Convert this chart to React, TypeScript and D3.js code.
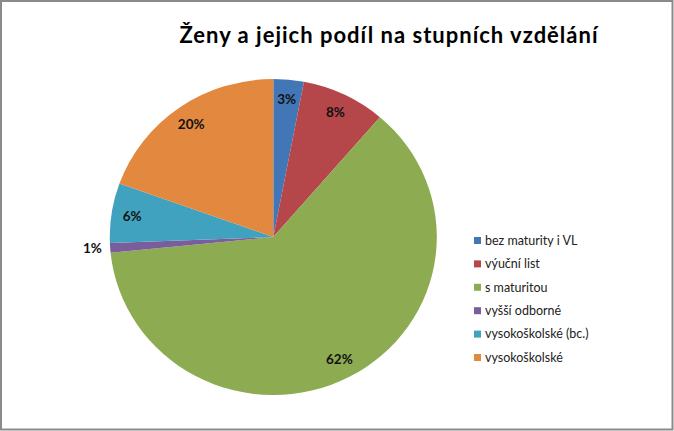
import React, { useEffect } from "react";
import * as d3 from "d3";

const categories = [
  "bez maturity i VL",
  "výuční list",
  "s maturitou",
  "vyšší odborné",
  "vysokoškolské (bc.)",
  "vysokoškolské",
];
const values = [3.0, 8.3, 62.1, 1.0, 6.1, 19.5];
const labels = ["3%", "8%", "62%", "1%", "6%", "20%"];
const colors = ["#4276B6", "#B5464A", "#8DAB50", "#7A5D9C", "#40A2BE", "#E2883F"];
const title = "Ženy a jejich podíl na stupních vzdělání";

const W = 674;
const H = 431;
const cx = 273.3;
const cy = 237;
const r = 158;
const sx = 1.035;
const font = "Lato, 'Open Sans', sans-serif";

export default function App() {
  useEffect(() => {
    document.body.style.margin = "0";
  }, []);

  const data = categories.map((c, i) => ({ c, v: values[i], l: labels[i], col: colors[i] }));
  const pie = d3.pie<any>().value((d) => d.v).sort(null);
  const arcs = pie(data);
  const arc = d3.arc<any>().innerRadius(0).outerRadius(r);
  const labelR = 138;

  return (
    <svg width={W} height={H} style={{ display: "block" }}>
      <rect x={0} y={0} width={W} height={H} fill="#fff" />
      <rect x={1} y={1} width={W - 2.5} height={H - 2.5} fill="none" stroke="#8a8a8a" strokeWidth={2} />
      <text
        x={389}
        y={43}
        textAnchor="middle"
        fontFamily={font}
        fontWeight="bold"
        fontSize={22}
        letterSpacing={1}
        fill="#000"
      >
        {title}
      </text>
      <g transform={`translate(${cx},${cy}) scale(${sx},1)`}>
        {arcs.map((a, i) => (
          <path key={i} d={arc(a) as string} fill={a.data.col} />
        ))}
      </g>
      {arcs.map((a, i) => {
        const mid = (a.startAngle + a.endAngle) / 2;
        const outside = a.data.v < 2;
        let x = cx + Math.sin(mid) * labelR * sx;
        let y = cy - Math.cos(mid) * labelR;
        let anchor: any = "middle";
        if (outside) {
          x = cx + Math.sin(mid) * (r + 8) * sx;
          y = cy - Math.cos(mid) * (r + 8);
          anchor = "end";
        }
        return (
          <text
            key={i}
            x={x}
            y={y}
            dy="0.35em"
            textAnchor={anchor}
            fontFamily={font}
            fontWeight="bold"
            fontSize={13.5}
            fill="#111"
          >
            {a.data.l}
          </text>
        );
      })}
      {data.map((d, i) => {
        const y = 240.5 + i * 23.4;
        return (
          <g key={i}>
            <rect x={474} y={y - 3.5} width={7} height={7} fill={d.col} />
            <text x={485} y={y} dy="0.35em" fontFamily={font} fontSize={12.5} fill="#222">
              {d.c}
            </text>
          </g>
        );
      })}
    </svg>
  );
}
